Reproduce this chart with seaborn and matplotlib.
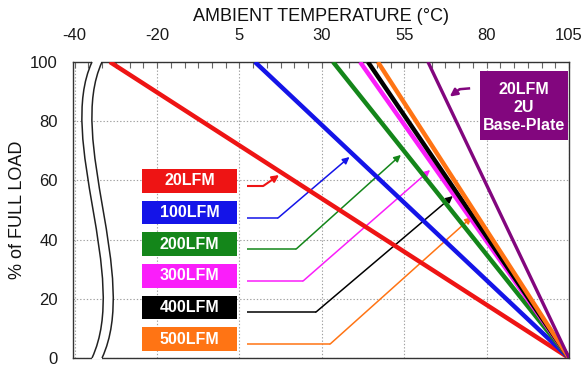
import numpy as np
import pandas as pd
import matplotlib
matplotlib.use("Agg")
import matplotlib.pyplot as plt
import seaborn as sns
from matplotlib.path import Path
from matplotlib.patches import PathPatch, Rectangle
from matplotlib.ticker import FixedLocator

# ---- derating curves: 100 % load up to the start temperature, 0 % at 105 °C ----
series = ["20LFM", "100LFM", "200LFM", "300LFM", "400LFM", "500LFM",
          "20LFM\n2U\nBase-Plate"]
start_temp = [-34.3, 9.7, 33.4, 41.6, 44.0, 47.0, 62.2]
full_load = [100, 100, 100, 100, 100, 100, 100]
end_temp = [105, 105, 105, 105, 105, 105, 105]
end_load = [0, 0, 0, 0, 0, 0, 0]
colors = ["#EE1414", "#1414E8", "#14861A", "#FA1EFA", "#000000", "#FF7414", "#82067E"]

# ---- axis ticks (broken axis: leftmost tick stands for -40 °C) ----
x_ticks = [-45, -20, 5, 30, 55, 80, 105]
x_tick_labels = ["-40", "-20", "5", "30", "55", "80", "105"]
y_ticks = [0, 20, 40, 60, 80, 100]
y_tick_labels = ["0", "20", "40", "60", "80", "100"]

# ---- legend boxes and their callout arrows ----
box_centers = [59.8, 49.1, 38.4, 27.8, 17.1, 6.4]
callout_tail = [58.1, 47.3, 36.8, 26.0, 15.5, 4.7]
callout_knee = [12.2, 16.7, 22.2, 24.3, 28.2, 32.5]
callout_tip_load = [61.8, 67.9, 68.6, 63.5, 54.7, 47.6]

df = pd.DataFrame({
    "series": np.repeat(series, 2),
    "temp": np.ravel(np.column_stack([start_temp, end_temp])),
    "load": np.ravel(np.column_stack([full_load, end_load])),
})

sns.set_style("white")
plt.rcParams["font.family"] = ["Liberation Sans", "DejaVu Sans"]

fig = plt.figure(figsize=(5.85, 3.65), dpi=100)
ax = fig.add_axes([0.1248, 0.0192, 0.8479, 0.8110])

widths = [3.2, 3.2, 3.2, 3.2, 3.2, 3.2, 2.4]
for name, col, lw in zip(series, colors, widths):
    sub = df[df["series"] == name]
    sns.lineplot(data=sub, x="temp", y="load", color=col, lw=lw, sort=False,
                 estimator=None, ax=ax, zorder=3, solid_capstyle="butt")


def line_x_at(i, load):
    """Temperature where curve i reaches the given load."""
    return start_temp[i] + (end_temp[i] - start_temp[i]) * (1 - load / 100.0)


# callout leaders from the legend boxes to their curves
tail_x = 7.3
gap = 1.9
for i in range(6):
    tip = (line_x_at(i, callout_tip_load[i]) - gap, callout_tip_load[i])
    lw_lead = 1.5 if i == 0 else 1.1
    ax.plot([tail_x, callout_knee[i]], [callout_tail[i], callout_tail[i]],
            color=colors[i], lw=lw_lead, zorder=2, solid_capstyle="butt")
    ax.annotate("", xy=tip, xytext=(callout_knee[i], callout_tail[i]),
                arrowprops=dict(arrowstyle="-|>", color=colors[i], lw=lw_lead,
                                mutation_scale=10, shrinkA=0, shrinkB=0),
                zorder=2)

# legend boxes
box_left, box_width, box_height = -24.55, 28.8, 8.0
for i in range(6):
    ax.add_patch(Rectangle((box_left, box_centers[i] - box_height / 2),
                           box_width, box_height, facecolor=colors[i],
                           edgecolor="none", zorder=4))
    ax.text(box_left + box_width / 2, box_centers[i], series[i], color="white",
            fontsize=11.5, fontweight="bold", ha="center", va="center", zorder=5)

# base-plate label box with its arrow
ax.add_patch(Rectangle((78.0, 73.6), 26.7, 23.4, facecolor=colors[6],
                       edgecolor="none", zorder=4))
ax.text(91.3, 84.7, series[6], color="white", fontsize=11.5, fontweight="bold",
        ha="center", va="center", linespacing=1.25, zorder=5)
bp_tip = (line_x_at(6, 88.3) + 1.6, 88.3)
ax.plot([75.0, 71.8], [91.1, 90.8], color=colors[6], lw=1.8, zorder=2,
        solid_capstyle="butt")
ax.annotate("", xy=bp_tip, xytext=(71.8, 90.8),
            arrowprops=dict(arrowstyle="-|>", color=colors[6], lw=1.8,
                            mutation_scale=11, shrinkA=0, shrinkB=0), zorder=2)

# axes limits, ticks and grid
ax.set_xlim(-45.5, 105)
ax.set_ylim(0, 100)
ax.set_xticks(x_ticks)
ax.set_xticklabels(x_tick_labels)
ax.set_yticks(y_ticks)
ax.set_yticklabels(y_tick_labels)
minor = [-20 + k * 25 / 6 for k in range(-6, 31)]
ax.xaxis.set_minor_locator(FixedLocator([m for m in minor if -45 < m < 105]))
ax.xaxis.set_ticks_position("top")
ax.xaxis.set_label_position("top")
ax.tick_params(axis="x", which="both", top=True, bottom=False, direction="in",
               length=4, width=0.8, color="#666666", labelsize=12,
               labelcolor="#1a1a1a", pad=13.5)
ax.tick_params(axis="y", length=0, labelsize=12, labelcolor="#1a1a1a", pad=11)
ax.grid(True, which="major", ls=(0, (1.2, 1.8)), color="#a0a0a0", lw=0.8)
ax.set_axisbelow(True)

ax.set_xlabel("AMBIENT TEMPERATURE (\u00b0C)", fontsize=13, color="#111111",
              labelpad=5)
ax.set_ylabel("% of FULL LOAD", fontsize=13, color="#111111", labelpad=3)

for sp in ax.spines.values():
    sp.set_color("#333333")
    sp.set_linewidth(1.0)

# axis-break marker: two S-shaped curves with white between them
p0, p1, p2, p3 = (0.0383, 1.0), (-0.0340, 0.7365), (0.1150, 0.2770), (0.0383, 0.0)
dx = 0.0202
left = [p0, p1, p2, p3]
right = [(x + dx, y) for x, y in left]
ext = 0.006
verts = ([(p0[0], 1 + ext), p0, p1, p2, p3, (p3[0], -ext),
          (right[3][0], -ext), right[3], right[2], right[1], right[0],
          (right[0][0], 1 + ext), (p0[0], 1 + ext)])
codes = ([Path.MOVETO, Path.LINETO, Path.CURVE4, Path.CURVE4, Path.CURVE4,
          Path.LINETO, Path.LINETO, Path.LINETO, Path.CURVE4, Path.CURVE4,
          Path.CURVE4, Path.LINETO, Path.CLOSEPOLY])
ax.add_patch(PathPatch(Path(verts, codes), facecolor="white", edgecolor="none",
                       transform=ax.transAxes, clip_on=False, zorder=6))
for curve in (left, right):
    ax.add_patch(PathPatch(Path(curve, [Path.MOVETO, Path.CURVE4, Path.CURVE4,
                                        Path.CURVE4]),
                           facecolor="none", edgecolor="#222222", lw=1.1,
                           transform=ax.transAxes, clip_on=False, zorder=7))

fig.savefig("out.png", dpi=100)
